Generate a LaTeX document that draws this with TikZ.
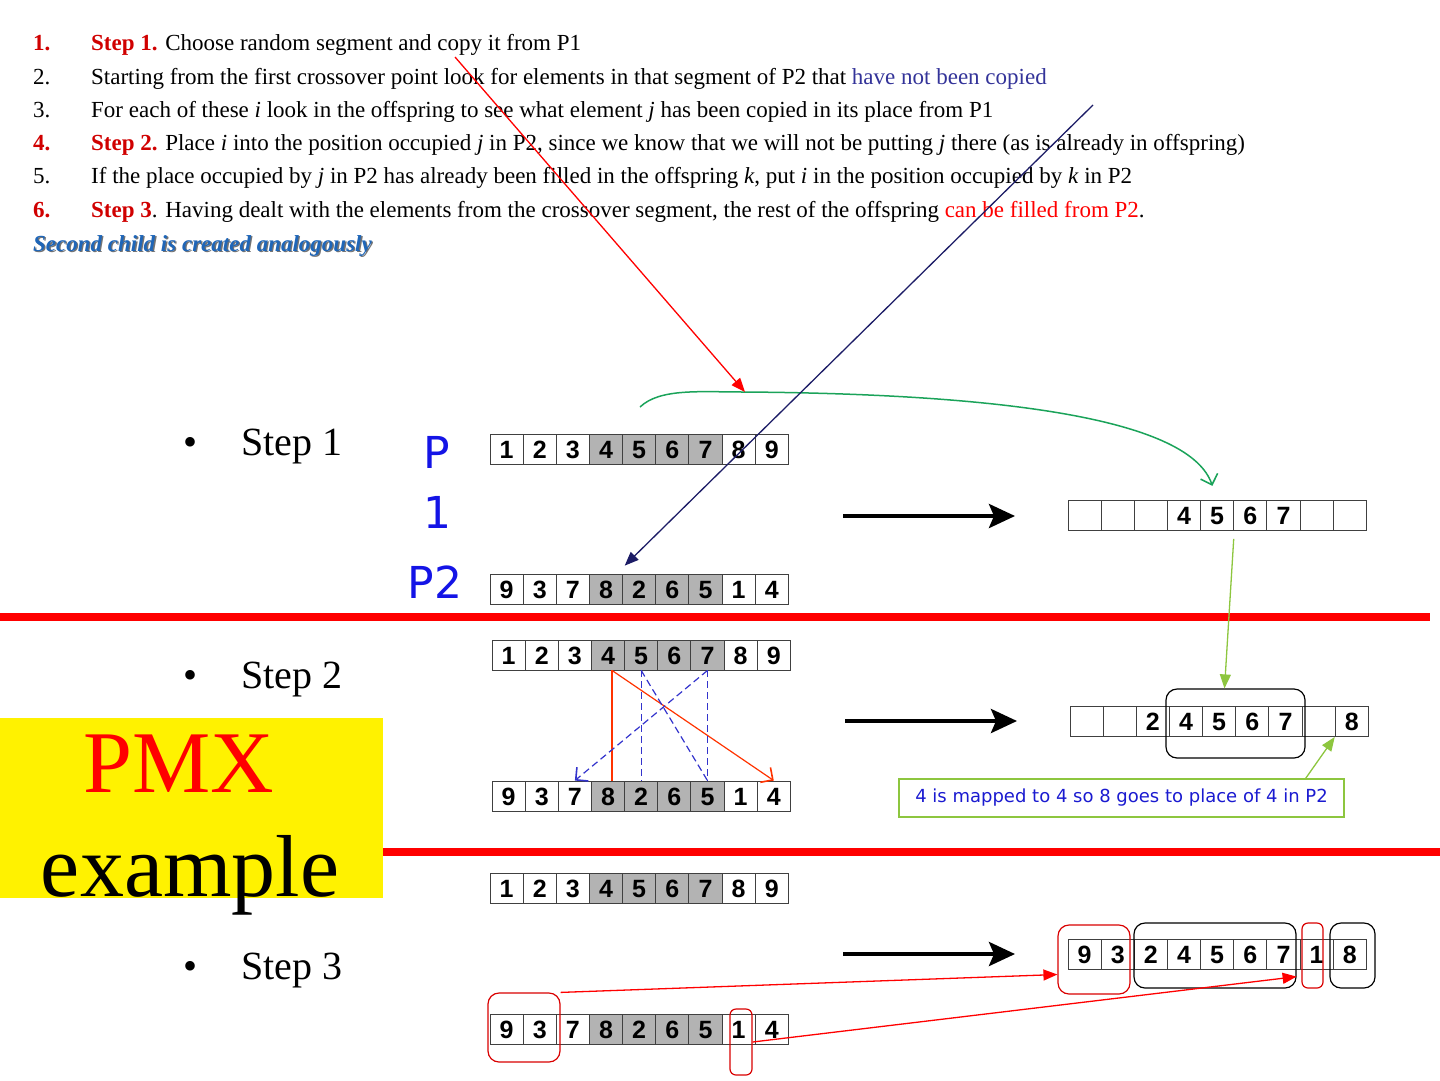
\documentclass[tikz,border=0pt]{standalone}
\usepackage{fontspec}
\setmainfont{Liberation Serif}
\newfontfamily\cellsans{Liberation Sans}
\newfontfamily\labelsans{DejaVu Sans}
\usetikzlibrary{arrows.meta,fit}

\definecolor{segfill}{HTML}{B3B3B3}
\definecolor{stepred}{HTML}{D00000}
\definecolor{copiedblue}{HTML}{333399}
\definecolor{childblue}{HTML}{1F66B8}
\definecolor{parentblue}{HTML}{1414E6}
\definecolor{curvegreen}{HTML}{1BA35A}
\definecolor{notegreen}{HTML}{8DC63F}
\definecolor{noteblue}{HTML}{1A1AD0}
\definecolor{navyline}{HTML}{1C1C66}
\definecolor{mapred}{HTML}{FF3300}
\definecolor{mapblue}{HTML}{3333CC}

% text with a dark drop shadow
\newcommand{\shadowed}[2]{\rlap{\kern1.3pt\raisebox{-1.3pt}{\color{#1}#2}}#2}
\newcommand{\stepmark}[1]{{\color{stepred}\bfseries #1}}

% one chromosome: name, left x, centre y, values, first and last grey cell
\newcommand{\chromrow}[6]{%
  \foreach \v [count=\i] in {#4} {%
    \def\cellfill{white}%
    \ifnum\i<#5\relax\else\ifnum\i>#6\relax\else\def\cellfill{segfill}\fi\fi
    \node[cell, fill=\cellfill] (#1-\i) at ({#2+33.15*(\i-0.5)},#3) {\v};
  }}

\begin{document}
\begin{tikzpicture}[x=1pt, y=-1pt,
  cell/.style={draw=black!75, line width=0.9pt, minimum width=33.15pt,
               minimum height=30pt, inner sep=0pt, text height=18pt, text depth=0pt,
               font=\cellsans\bfseries\fontsize{25}{25}\selectfont},
  txtline/.style={anchor=base west, inner sep=0pt, font=\fontsize{23}{27}\selectfont},
  steplabel/.style={anchor=base west, inner sep=0pt, font=\fontsize{40}{40}\selectfont},
  parentlabel/.style={inner sep=0pt, text=parentblue, align=center,
                      font=\labelsans\fontsize{44}{60}\selectfont},
  procarrow/.style={line width=4pt, -{Stealth[length=26pt,width=24pt,inset=5pt]}},
  sepline/.style={red, line width=8pt},
  keepbox/.style={draw=black, line width=1.2pt, rounded corners=11pt, inner sep=0pt},
  markbox/.style={draw=red!85!black, line width=1.2pt, rounded corners=11pt, inner sep=0pt},
  thinbox/.style={rounded corners=6pt},
  redlink/.style={draw=mapred, line width=1.2pt},
  bluelink/.style={draw=mapblue, line width=1.2pt, dash pattern=on 7pt off 4pt},
  openhead/.style={-{Straight Barb[length=9pt,width=18pt,line width=1.6pt]}},
  fillhead/.style={-{Triangle[length=14pt,width=11pt]}}
]
\useasboundingbox (0,0) rectangle (1440,1080);

% the steps written out
\node[txtline] (item1) at (33,50) {\makebox[58pt][l]{\stepmark{1.}}\stepmark{Step 1.} Choose random segment and copy it from P1};
\node[txtline] (item2) at (33,84) {\makebox[58pt][l]{2.}Starting from the first crossover point look for elements in that segment of P2 that {\color{copiedblue}have not been copied}};
\node[txtline] (item3) at (33,117) {\makebox[58pt][l]{3.}For each of these \textit{i} look in the offspring to see what element \textit{j} has been copied in its place from P1};
\node[txtline] (item4) at (33,150) {\makebox[58pt][l]{\stepmark{4.}}\stepmark{Step 2.} Place \textit{i} into the position occupied \textit{j} in P2, since we know that we will not be putting \textit{j} there (as is already in offspring)};
\node[txtline] (item5) at (33,183) {\makebox[58pt][l]{5.}If the place occupied by \textit{j} in P2 has already been filled in the offspring \textit{k}, put \textit{i} in the position occupied by \textit{k} in P2};
\node[txtline] (item6) at (33,217) {\makebox[58pt][l]{\stepmark{6.}}\stepmark{Step 3}. Having dealt with the elements from the crossover segment, the rest of the offspring {\color{red}can be filled from P2}.};
\node[txtline] (child2) at (33,251) {\color{childblue}\shadowed{black!55}{\bfseries\itshape Second child is created analogously}};

% separators and the title box
\draw[sepline] (0,617) -- (1430,617);
\draw[sepline] (383,852) -- (1440,852);
\node[fill=yellow, minimum width=383pt, minimum height=180pt, inner sep=0pt, anchor=north west] (pmxbox) at (0,718) {};
\node[anchor=base, inner sep=0pt, text=red, font=\fontsize{88}{88}\selectfont] (pmxtitle) at (179,792) {PMX};
\node[anchor=base, inner sep=0pt, font=\fontsize{88}{88}\selectfont] (pmxsub) at (190,896) {example};

% step labels
\node[steplabel] (step1) at (183,455) {\makebox[58pt][l]{\textbullet}Step 1};
\node[steplabel] (step2) at (183,688) {\makebox[58pt][l]{\textbullet}Step 2};
\node[steplabel] (step3) at (183,979) {\makebox[58pt][l]{\textbullet}Step 3};
\node[parentlabel] (lblp1) at (437,482) {P\\1};
\node[parentlabel] (lblp2) at (435,582) {P2};

% chromosomes
\chromrow{s1p1}{490}{449}{1,2,3,4,5,6,7,8,9}{4}{7}
\chromrow{s1p2}{490}{589.5}{9,3,7,8,2,6,5,1,4}{4}{7}
\chromrow{s1c}{1068}{515.5}{{},{},{},4,5,6,7,{},{}}{10}{0}
\chromrow{s2p1}{492}{655}{1,2,3,4,5,6,7,8,9}{4}{7}
\chromrow{s2p2}{492}{796}{9,3,7,8,2,6,5,1,4}{4}{7}
\chromrow{s2c}{1070}{721.5}{{},{},2,4,5,6,7,{},8}{10}{0}
\chromrow{s3p1}{490}{888}{1,2,3,4,5,6,7,8,9}{4}{7}
\chromrow{s3p2}{490}{1029}{9,3,7,8,2,6,5,1,4}{4}{7}
\chromrow{s3c}{1068}{954.5}{9,3,2,4,5,6,7,1,8}{10}{0}

% rounded marks
\node[keepbox, fit={(1166,689) (1305,758)}] (keep2) {};
\node[markbox, fit={(1058,925) (1130,994)}] (pairc3) {};
\node[keepbox, fit={(1134,923) (1296,988)}] (keep3) {};
\node[markbox, thinbox, fit={(1302,923) (1323,988)}] (onec3) {};
\node[keepbox, fit={(1330,923) (1375,988)}] (eightc3) {};
\node[markbox, fit={(488,993) (560,1062)}] (pairp3) {};
\node[markbox, thinbox, fit={(730,1009) (752,1075)}] (onep3) {};

\node[draw=notegreen, line width=1.3pt, minimum width=445pt, minimum height=38pt,
      text=noteblue, font=\labelsans\fontsize{18}{18}\selectfont] (mapnote) at (1121.5,798)
      {4 is mapped to 4 so 8 goes to place of 4 in P2};

% process arrows
\coordinate (s1from) at (843,516);
\coordinate (s1to) at (1015,516);
\coordinate (s2from) at (845,721);
\coordinate (s2to) at (1017,721);
\coordinate (s3from) at (843,954);
\coordinate (s3to) at (1015,954);
\draw[procarrow] (s1from) -- (s1to);
\draw[procarrow] (s2from) -- (s2to);
\draw[procarrow] (s3from) -- (s3to);

% step 1 pointers
\coordinate (copyref) at (455,57);
\coordinate (segref) at (1093,105);
\coordinate (gstart) at (640,407);
\coordinate (greenmid) at (745,392);
\draw[curvegreen, line width=1.5pt, openhead, shorten >=15pt]
  (gstart) .. controls (660,388) and (700,392) .. (greenmid)
  .. controls (1010,394) and (1190,420) .. (s1c-5.north);
\draw[red, line width=1.3pt, fillhead] (copyref) -- (greenmid);
\draw[navyline, line width=1.3pt, fillhead, shorten >=12pt] (segref) -- ([xshift=-6pt]s1p2-5.north west);
\draw[notegreen, line width=1.3pt, fillhead, shorten <=8pt] (s1c-5.south east) -- ([xshift=-11pt]keep2.north);

% step 2 mapping
\draw[redlink] ([xshift=4pt]s2p2-4.north) -- ([xshift=4pt]s2p1-4.south);
\draw[redlink, openhead] ([xshift=4pt]s2p1-4.south) -- (s2p2-9.north);
\draw[bluelink] (s2p1-5.south) -- (s2p2-5.north);
\draw[bluelink] (s2p1-5.south) -- (s2p2-7.north);
\draw[bluelink] (s2p1-7.south) -- (s2p2-7.north);
\draw[bluelink, openhead] (s2p1-7.south) -- (s2p2-3.north);
\draw[notegreen, line width=1.3pt, fillhead] ([xshift=-39pt]mapnote.north east) -- (s2c-9.south west);

% step 3 copies
\draw[red, line width=1.3pt, fillhead] (pairp3.north east) -- ([yshift=-15pt]pairc3.west);
\draw[red, line width=1.3pt, fillhead] (onep3.east) -- ([yshift=12pt]keep3.south east);
\end{tikzpicture}
\end{document}
